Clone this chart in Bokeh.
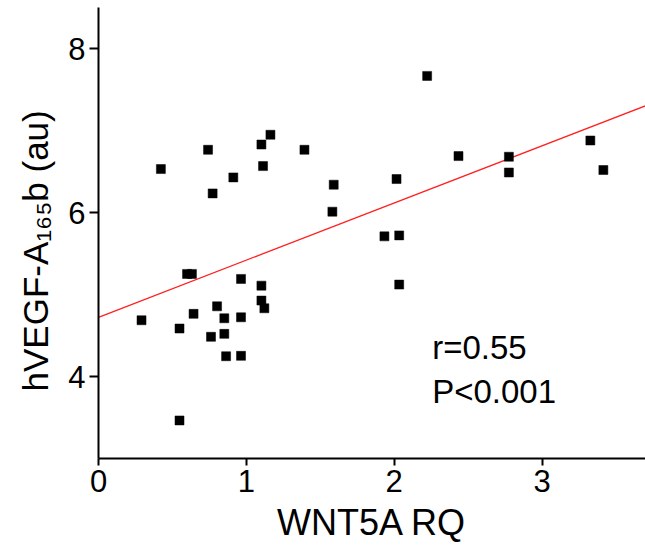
from bokeh.plotting import figure
from bokeh.models import Range1d, FixedTicker, Label, ColumnDataSource, Title
from bokeh.embed import file_html
from bokeh.resources import INLINE

# ---- data ----
wnt5a_rq = [0.291, 0.548, 0.643, 0.599, 0.632, 0.802, 0.761, 0.851, 0.851, 0.863,
            0.964, 0.964, 0.964, 1.102, 1.102, 1.122, 0.548, 0.422, 0.741, 1.163,
            1.102, 1.393, 1.113, 0.912, 0.772, 1.591, 1.582, 2.223, 2.435, 2.016,
            2.776, 2.776, 3.327, 3.415, 1.934, 2.034, 2.034]
vegf = [4.686, 4.585, 4.764, 5.251, 5.251, 4.856, 4.484, 4.710, 4.520, 4.247,
        4.252, 4.722, 5.190, 5.108, 4.926, 4.832, 3.464, 6.530, 6.765, 6.948,
        6.829, 6.765, 6.566, 6.428, 6.233, 6.339, 6.010, 7.666, 6.688, 6.408,
        6.680, 6.488, 6.878, 6.518, 5.709, 5.721, 5.121]
fit_intercept = 4.722
fit_slope = 0.697
x_ticks = [0, 1, 2, 3]
y_ticks = [4, 6, 8]
x_label = "WNT5A RQ"
y_label = "hVEGF-A\u2081\u2086\u2085b (au)"
stats_text = ["r=0.55", "P<0.001"]

X_MIN, X_MAX = 0.0, 3.70
Y_MIN, Y_MAX = 3.0, 8.5

FONT = "Liberation Sans"

p = figure(width=645, height=556, output_backend="svg", toolbar_location=None,
           x_range=Range1d(X_MIN, X_MAX), y_range=Range1d(Y_MIN, Y_MAX),
           min_border_left=98, min_border_right=0, min_border_top=7,
           min_border_bottom=98)
p.outline_line_color = None
p.xgrid.visible = False
p.ygrid.visible = False
p.background_fill_color = "white"
p.border_fill_color = "white"

for ax in (p.xaxis[0], p.yaxis[0]):
    ax.axis_line_width = 2
    ax.axis_line_color = "black"
    ax.major_tick_line_width = 2
    ax.major_tick_line_color = "black"
    ax.major_tick_in = 0
    ax.minor_tick_line_color = None
    ax.major_label_text_font = FONT
    ax.major_label_text_font_size = "31px"
    ax.major_label_text_color = "black"

p.xaxis.ticker = FixedTicker(ticks=x_ticks)
p.yaxis.ticker = FixedTicker(ticks=y_ticks)
p.xaxis.major_tick_out = 7
p.yaxis.major_tick_out = 9
p.xaxis.major_label_standoff = 4
p.yaxis.major_label_standoff = 4

p.xaxis.axis_label = x_label
p.xaxis.axis_label_text_font = FONT
p.xaxis.axis_label_text_font_size = "36px"
p.xaxis.axis_label_text_font_style = "normal"
p.xaxis.axis_label_text_color = "black"
p.xaxis.axis_label_standoff = 7

# y-axis label as a left-side title (not clipped, can be shifted along the axis)
p.add_layout(Title(text=y_label, align="left", offset=67, standoff=22,
                   text_font=FONT, text_font_size="35px", text_font_style="normal",
                   text_color="black"), "left")

# regression line
fit_x = [X_MIN, X_MAX]
fit_y = [fit_intercept + fit_slope * v for v in fit_x]
p.line(fit_x, fit_y, line_color="#ff2020", line_width=1.3)

# points
src = ColumnDataSource(dict(x=wnt5a_rq, y=vegf))
p.scatter("x", "y", source=src, marker="square", size=9,
          fill_color="black", line_color="black", line_width=0.5)

# stats text
p.add_layout(Label(x=2.257, y=4.357, text=stats_text[0], text_font=FONT,
                   text_font_size="33px", text_color="black",
                   text_baseline="alphabetic", text_align="left"))
p.add_layout(Label(x=2.257, y=3.821, text=stats_text[1], text_font=FONT,
                   text_font_size="33px", text_color="black",
                   text_baseline="alphabetic", text_align="left"))

open("out.html", "w").write(file_html(p, INLINE))
